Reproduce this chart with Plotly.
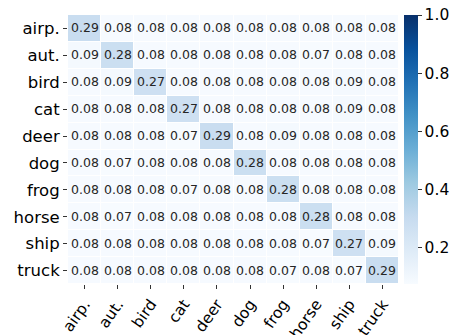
import plotly.graph_objects as go

labels = ["airp.", "aut.", "bird", "cat", "deer", "dog", "frog", "horse", "ship", "truck"]
values = [
    [0.29, 0.08, 0.08, 0.08, 0.08, 0.08, 0.08, 0.08, 0.08, 0.08],
    [0.09, 0.28, 0.08, 0.08, 0.08, 0.08, 0.08, 0.07, 0.08, 0.08],
    [0.08, 0.09, 0.27, 0.08, 0.08, 0.08, 0.08, 0.08, 0.09, 0.08],
    [0.08, 0.08, 0.08, 0.27, 0.08, 0.08, 0.08, 0.08, 0.09, 0.08],
    [0.08, 0.08, 0.08, 0.07, 0.29, 0.08, 0.09, 0.08, 0.08, 0.08],
    [0.08, 0.07, 0.08, 0.08, 0.08, 0.28, 0.08, 0.08, 0.08, 0.08],
    [0.08, 0.08, 0.08, 0.07, 0.08, 0.08, 0.28, 0.08, 0.08, 0.08],
    [0.08, 0.07, 0.08, 0.08, 0.08, 0.08, 0.08, 0.28, 0.08, 0.08],
    [0.08, 0.08, 0.08, 0.08, 0.08, 0.08, 0.08, 0.07, 0.27, 0.09],
    [0.08, 0.08, 0.08, 0.08, 0.08, 0.08, 0.07, 0.08, 0.07, 0.29],
]
cbar_ticks = [0.2, 0.4, 0.6, 0.8, 1.0]

blues = [
    [0.0, "rgb(247,251,255)"], [0.125, "rgb(222,235,247)"], [0.25, "rgb(198,219,239)"],
    [0.375, "rgb(158,202,225)"], [0.5, "rgb(107,174,214)"], [0.625, "rgb(66,146,198)"],
    [0.75, "rgb(33,113,181)"], [0.875, "rgb(8,81,156)"], [1.0, "rgb(8,48,107)"],
]

font = "DejaVu Sans"
fig = go.Figure(go.Heatmap(
    z=values, x=labels, y=labels,
    colorscale=blues, zmin=0.075, zmax=1.0,
    xgap=1, ygap=1,
    texttemplate="%{z:.2f}", textfont=dict(size=12.5, color="#262626", family=font),
    colorbar=dict(
        thickness=14, len=1.0, lenmode="fraction", y=0.5, yanchor="middle", ypad=0,
        x=1.0, xpad=5, xanchor="left", outlinewidth=0,
        tickvals=cbar_ticks, tickformat=".1f", ticks="outside", ticklen=4,
        tickcolor="#333",
        tickfont=dict(size=15.5, family=font, color="#000"),
    ),
))
fig.update_layout(
    width=450, height=335,
    margin=dict(l=68, r=51, t=15, b=51, autoexpand=False),
    paper_bgcolor="white", plot_bgcolor="white",
    font=dict(family=font, color="#000"),
)
fig.update_xaxes(tickangle=-55, ticks="outside", ticklen=4, tickcolor="#333",
                 tickfont=dict(size=15.5, family=font), showgrid=False, zeroline=False,
                 automargin=False)
fig.update_yaxes(autorange="reversed", ticks="outside", ticklen=4, tickcolor="#333",
                 tickfont=dict(size=16.5, family=font), showgrid=False, zeroline=False,
                 automargin=False)
fig.write_html("out.html", config={"displayModeBar": False},
               post_script="document.body.style.margin='0';")
